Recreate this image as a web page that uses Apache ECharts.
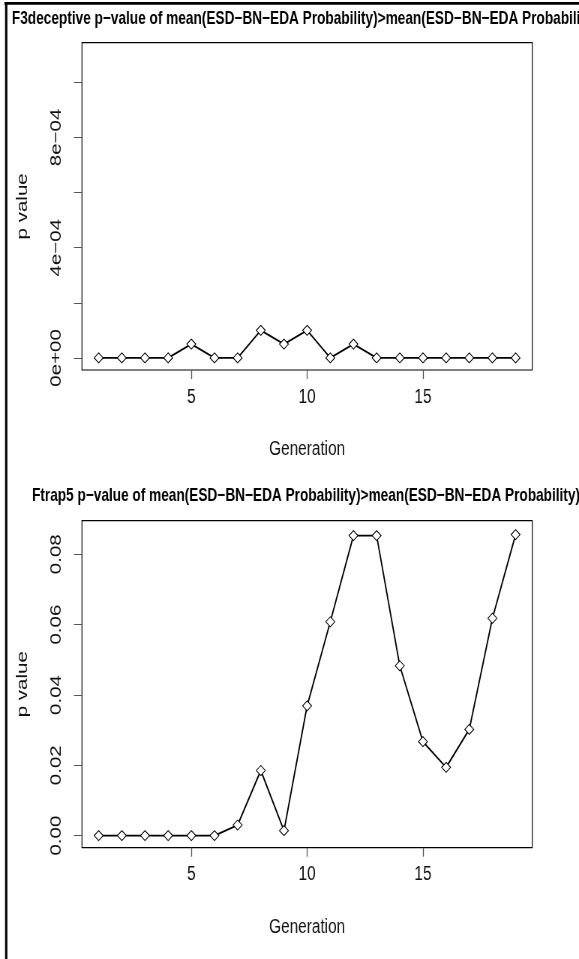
<!DOCTYPE html>
<html><head><meta charset="utf-8">
<script src="https://cdn.jsdelivr.net/npm/echarts@6/dist/echarts.min.js"></script>
<style>
html,body{margin:0;padding:0;background:#fff;overflow:hidden;}
#wrap{width:579px;height:959px;overflow:hidden;position:relative;}
#chart{width:772px;height:959px;transform:scaleX(0.75);transform-origin:0 0;}
</style></head>
<body><div id="wrap"><div id="chart"></div></div>
<script>
// ---- data ----
var generations = [1,2,3,4,5,6,7,8,9,10,11,12,13,14,15,16,17,18,19];
var pF3deceptive = [0,0,0,0,0.00005,0,0,0.0001,0.00005,0.0001,0,0.00005,0,0,0,0,0,0,0];
var pFtrap5 = [0,0,0,0,0,0,0.003,0.0185,0.0014,0.0369,0.0608,0.0853,0.0853,0.0483,0.0267,0.0194,0.0302,0.0618,0.0856];
var titles = [
  "F3deceptive p\u2212value of mean(ESD\u2212BN\u2212EDA Probability)>mean(ESD\u2212BN\u2212EDA Probability)",
  "Ftrap5 p\u2212value of mean(ESD\u2212BN\u2212EDA Probability)>mean(ESD\u2212BN\u2212EDA Probability)"
];
var xTickValues = [5,10,15];
var yTicks1 = [0,0.0002,0.0004,0.0006,0.0008,0.001];
var yLabelValues1 = [0,0.0004,0.0008];
var yLabelTexts1 = ["0e+00","4e\u221204","8e\u221204"];
var yTicks2 = [0,0.02,0.04,0.06,0.08];
var yLabelTexts2 = ["0.00","0.02","0.04","0.06","0.08"];
var xLabel = "Generation";
var yLabel = "p value";

// ---- chart ----
var chart = echarts.init(document.getElementById('chart'), null, {renderer:'canvas'});
var FONT = "'Liberation Sans', Arial, Helvetica, sans-serif";
function pairs(ys){ return generations.map(function(g,i){return [g, ys[i]];}); }
function lookup(vals, texts){
  return function(v){
    for (var i=0;i<vals.length;i++){ if (Math.abs(vals[i]-v) < 1e-9) return texts[i]; }
    return '';
  };
}
var gridL = 109.3, gridW = 600.4;
function xAxis(idx){
  return {
    type:'value', gridIndex:idx, min:0.28, max:19.72,
    axisLine:{show:false, onZero:false},
    splitLine:{show:false},
    axisTick:{show:true, customValues:xTickValues, length:9, lineStyle:{color:'#555', width:1.3}},
    axisLabel:{show:true, customValues:xTickValues, margin:16.5, fontFamily:FONT, fontSize:20.5, color:'#111'},
    name:xLabel, nameLocation:'middle', nameGap:69,
    nameTextStyle:{fontFamily:FONT, fontSize:20.5, color:'#111'}
  };
}
function yAxis(idx, min, max, ticks, labVals, labTexts){
  return {
    type:'value', gridIndex:idx, min:min, max:max,
    axisLine:{show:false, onZero:false},
    splitLine:{show:false},
    axisTick:{show:true, customValues:ticks, length:10.7, lineStyle:{color:'#555', width:1}},
    axisLabel:{show:true, customValues:labVals, rotate:90, margin:23, fontFamily:FONT, fontSize:20.5, color:'#111',
      formatter:lookup(labVals, labTexts)},
    name:yLabel, nameLocation:'middle', nameGap:68, nameRotate:90,
    nameTextStyle:{fontFamily:FONT, fontSize:20.5, color:'#111'}
  };
}
function series(idx, ys){
  return {
    type:'line', xAxisIndex:idx, yAxisIndex:idx, data:pairs(ys),
    symbol:'diamond', symbolSize:[12,10], showSymbol:true,
    itemStyle:{color:'#fff', borderColor:'#000', borderWidth:1},
    lineStyle:{color:'#000', width:1.8},
    emphasis:{disabled:true}, silent:true, z:3
  };
}
var option = {
  animation:false,
  backgroundColor:'#fff',
  title:[
    {text:titles[0], left:406, top:10.3, textAlign:'center', padding:0,
     textStyle:{fontFamily:FONT, fontWeight:'bold', fontSize:18.2, color:'#000'}},
    {text:titles[1], left:408, top:487, textAlign:'center', padding:0,
     textStyle:{fontFamily:FONT, fontWeight:'bold', fontSize:18.2, color:'#000'}}
  ],
  grid:[
    {left:gridL, width:gridW, top:42.7, height:327.3, show:true, borderColor:'#000', borderWidth:1.2, backgroundColor:'transparent'},
    {left:gridL, width:gridW, top:520.7, height:327, show:true, borderColor:'#000', borderWidth:1.2, backgroundColor:'transparent'}
  ],
  xAxis:[xAxis(0), xAxis(1)],
  yAxis:[
    yAxis(0, -0.000044, 0.001144, yTicks1, yLabelValues1, yLabelTexts1),
    yAxis(1, -0.003444, 0.089544, yTicks2, yTicks2, yLabelTexts2)
  ],
  series:[series(0, pF3deceptive), series(1, pFtrap5)],
  graphic:[
    {type:'line', shape:{x1:6, y1:3.3, x2:772, y2:3.3}, style:{stroke:'#000', lineWidth:2.7}, silent:true},
    {type:'line', shape:{x1:8.3, y1:2, x2:8.3, y2:959}, style:{stroke:'#000', lineWidth:3.1}, silent:true}
  ]
};
chart.setOption(option);
</script></body></html>
